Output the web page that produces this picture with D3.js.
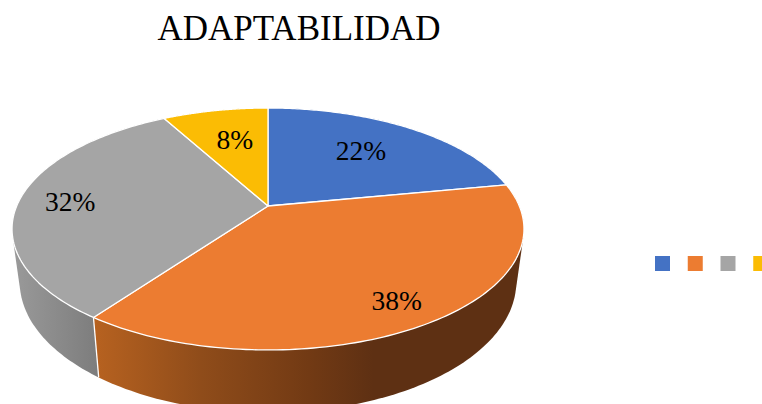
<!DOCTYPE html>
<html>
<head>
<meta charset="utf-8">
<script src="https://cdn.jsdelivr.net/npm/d3@7"></script>
<style>
html,body{margin:0;padding:0;background:#fff;overflow:hidden}
svg{display:block}
text{font-family:"Liberation Serif","Times New Roman",serif;fill:#000}
</style>
</head>
<body>
<svg id="c" width="762" height="404"></svg>
<script>
// Data
const titleText = "ADAPTABILIDAD";
const categories = ["A", "B", "C", "D"];
const values = [22, 38, 32, 8];
const labels = ["22%", "38%", "32%", "8%"];
const colors = ["#4472C4", "#EC7C31", "#A5A5A5", "#FBBC04"];

// Layout
const apexX = 268, apexY = 206;
const persp = 0.19, radX = 251.3, radY = 116.6;
const labelRadius = [0.62, 0.84, 0.8, 0.63];
const labelNudge = [[2, -4], [-2, -1], [1, 1], [2, -3]];

const svg = d3.select("#c");
const pie = d3.pie().sort(null)(values);

function project(theta, r) {
  const u = Math.sin(theta) * r, v = -Math.cos(theta) * r;
  const w = 1 - persp * v;
  return [apexX + radX * u / w, apexY + radY * v / w];
}
function lower(p) {
  return [apexX + 0.97 * (p[0] - apexX), p[1] + 54 + 0.08 * (p[1] - 243)];
}
const line = d3.line();
function arcPts(a0, a1) {
  return d3.range(0, 121).map(i => project(a0 + (a1 - a0) * i / 120, 1));
}

const defs = svg.append("defs");
function gradient(id, x1, x2, stops) {
  const g = defs.append("linearGradient").attr("id", id)
    .attr("gradientUnits", "userSpaceOnUse")
    .attr("x1", x1).attr("x2", x2).attr("y1", 0).attr("y2", 0);
  stops.forEach(s => g.append("stop").attr("offset", s[0]).attr("stop-color", s[1]));
}
gradient("side1", 94, 524, [[0, "#B76220"], [0.25, "#8F4C1A"], [0.5, "#723A14"], [0.65, "#5E3013"], [1, "#5E3013"]]);
gradient("side2", 12, 100, [[0, "#9A9A9A"], [0.5, "#8B8B8B"], [1, "#7C7C7C"]]);
gradient("side0", 268, 524, [[0, "#2F4F88"], [1, "#2F4F88"]]);
gradient("side3", 165, 268, [[0, "#AD8500"], [1, "#AD8500"]]);

// Sides, back to front: each is the hull of the slice's top and bottom rims
[0, 3, 2, 1].forEach(i => {
  const d = pie[i];
  const top = arcPts(d.startAngle, d.endAngle);
  const hull = d3.polygonHull(top.concat(top.map(lower)));
  svg.append("path").attr("d", line(hull) + "Z")
    .attr("fill", `url(#side${i})`);
});
// Seam between grey and orange sides
const seam = project(pie[1].endAngle, 1);
svg.append("path").attr("d", line([seam, lower(seam)]))
  .attr("stroke", "#fff").attr("stroke-width", 1.3).attr("fill", "none");

// Top face
pie.forEach((d, i) => {
  const pts = [[apexX, apexY]].concat(arcPts(d.startAngle, d.endAngle));
  svg.append("path").attr("d", line(pts) + "Z")
    .attr("fill", colors[i])
    .attr("stroke", "#fff").attr("stroke-width", 1.3).attr("stroke-linejoin", "round");
});

// Labels
pie.forEach((d, i) => {
  const p = project((d.startAngle + d.endAngle) / 2, labelRadius[i]);
  svg.append("text").attr("x", p[0] + labelNudge[i][0]).attr("y", p[1] + labelNudge[i][1]).attr("dy", "0.34em")
    .attr("text-anchor", "middle").attr("font-size", 27.5).text(labels[i]);
});

// Title
svg.append("text").attr("x", 299).attr("y", 40).attr("text-anchor", "middle")
  .attr("font-size", 35).text(titleText);

// Legend (swatches only)
const legendX = d3.scaleBand().domain(categories).range([655, 786]).paddingInner(0);
svg.selectAll("rect.legend").data(categories).enter().append("rect")
  .attr("class", "legend")
  .attr("x", d => legendX(d)).attr("y", 256).attr("width", 15).attr("height", 15)
  .attr("fill", (d, i) => colors[i]);
</script>
</body>
</html>
